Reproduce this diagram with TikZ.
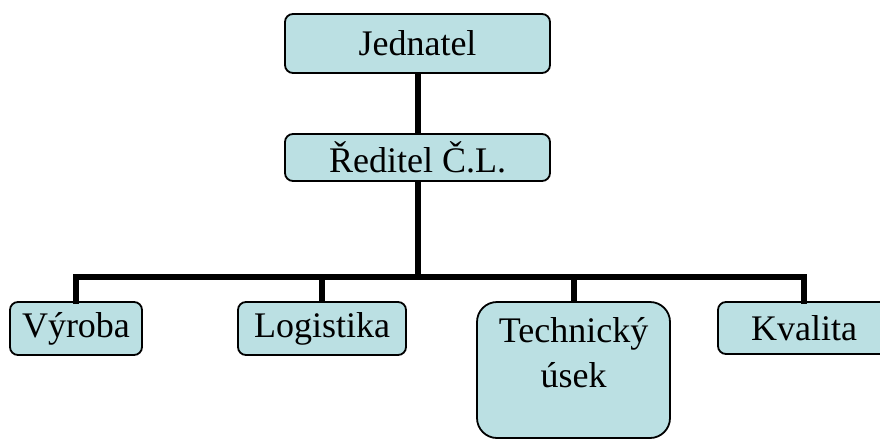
\documentclass[tikz,border=0pt]{standalone}
\usepackage{fontspec}
\setmainfont{Liberation Serif}
\definecolor{boxfill}{HTML}{BBE0E3}
\begin{document}
\begin{tikzpicture}[x=1pt,y=-1pt,
  orgbox/.style={draw=black, line width=1.8pt, fill=boxfill, rounded corners=8pt,
    inner sep=0pt, font=\fontsize{36}{45}\selectfont, align=center},
  conn/.style={line width=6pt, line join=miter, line cap=rect}]
\clip (0,0) rectangle (880,439);
\fill[white] (0,0) rectangle (880,439);
\node[orgbox, minimum width=265pt, minimum height=59pt] (jed) at (417.5,43.5) {Jednatel};
\node[orgbox, minimum width=265pt, minimum height=47pt] (red) at (417.5,157.5) {Ředitel Č.L.};
\node[orgbox, minimum width=132pt, minimum height=53pt] (vyr) at (76,328.5) {Výroba};
\node[orgbox, minimum width=168pt, minimum height=53pt] (log) at (322,328.5) {Logistika};
\node[orgbox, rounded corners=20pt, minimum width=193pt, minimum height=136pt] (tech) at (573.5,370) {Technický\\úsek\\[-9pt]\mbox{}};
\node[orgbox, minimum width=172pt, minimum height=52pt] (kva) at (804,328) {Kvalita};
\coordinate (bus) at (417.5,277);
\draw[line width=6pt] (jed.south) -- (red.north);
\draw[line width=6pt] (red.south) -- (bus);
\draw[conn] (vyr.north) -- (vyr.north |- bus) -- (kva.north |- bus) -- (kva.north);
\draw[line width=6pt] (log.north) -- (log.north |- bus);
\draw[line width=6pt] (tech.north) -- (tech.north |- bus);
\end{tikzpicture}
\end{document}
